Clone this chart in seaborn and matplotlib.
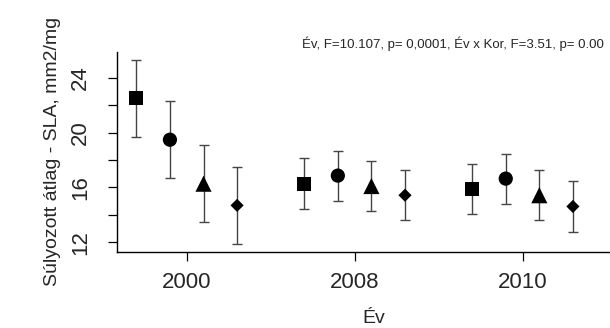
import matplotlib
matplotlib.use("Agg")
import matplotlib.pyplot as plt
import numpy as np
import pandas as pd
import seaborn as sns

# ---- data ----
years = ["2000", "2008", "2010"]
kor = ["Kor 1", "Kor 2", "Kor 3", "Kor 4"]
mean_2000 = [22.50, 19.48, 16.27, 14.69]
err_2000 = [2.83, 2.80, 2.80, 2.80]
mean_2008 = [16.28, 16.86, 16.10, 15.43]
err_2008 = [1.86, 1.83, 1.83, 1.83]
mean_2010 = [15.88, 16.64, 15.43, 14.61]
err_2010 = [1.83, 1.83, 1.83, 1.83]
y_ticks = [12, 14, 16, 18, 20, 22, 24]
y_ticklabels = ["12", "", "16", "", "20", "", "24"]
annotation = "Év, F=10.107, p= 0,0001, Év x Kor, F=3.51, p= 0.00"
x_label = "Év"
y_label = "Súlyozott átlag - SLA, mm2/mg"

# ---- table ----
means = [mean_2000, mean_2008, mean_2010]
errs = [err_2000, err_2008, err_2010]
dodge = [-0.3, -0.1, 0.1, 0.3]
rows = []
for gi, yr in enumerate(years):
    for ki, k in enumerate(kor):
        rows.append({"Év": yr, "Kor": k, "x": gi + dodge[ki],
                     "mean": means[gi][ki], "err": errs[gi][ki]})
df = pd.DataFrame(rows)

sns.set_theme(style="white")
plt.rcParams["font.family"] = ["Liberation Sans", "DejaVu Sans"]

fig = plt.figure(figsize=(6.1, 3.28), dpi=100)
ax = fig.add_axes([116.7 / 610, (328 - 251.7) / 328,
                   (630 - 116.7) / 610, (251.7 - 51.7) / 328])

ax.errorbar(df["x"], df["mean"], yerr=df["err"], fmt="none",
            ecolor="#454545", elinewidth=1.0, capsize=3.8, capthick=1.0,
            zorder=2)

marker_map = {"Kor 1": "s", "Kor 2": "o", "Kor 3": "^", "Kor 4": "D"}
size_map = {"Kor 1": 100, "Kor 2": 105, "Kor 3": 135, "Kor 4": 45}
sns.scatterplot(data=df, x="x", y="mean", style="Kor", markers=marker_map,
                size="Kor", sizes=size_map, color="black", edgecolor="black",
                linewidth=0, legend=False, ax=ax, zorder=3)

ax.set_xlim(-0.417, 2.64)
ax.set_ylim(11.31, 25.9)
ax.set_xticks(range(len(years)))
ax.set_xticklabels(years, fontsize=16)
ax.set_yticks(y_ticks)
ax.set_yticklabels(y_ticklabels, fontsize=16, rotation=90, va="center")
ax.tick_params(axis="both", direction="out", length=6.5, width=0.9,
               color="black", bottom=True, left=True)
ax.tick_params(axis="x", pad=8)
ax.tick_params(axis="y", pad=12)

for side in ["top", "right"]:
    ax.spines[side].set_visible(False)
for side in ["left", "bottom"]:
    ax.spines[side].set_color("black")
    ax.spines[side].set_linewidth(1.0)

ax.set_xlabel(x_label, fontsize=14, labelpad=12.5)
ax.set_ylabel(y_label, fontsize=14, labelpad=6.5)
ax.grid(False)

fig.text(302 / 610, 1 - 44 / 328, annotation, ha="left", va="center",
         fontsize=9.5)

fig.savefig("out.png", dpi=100)
